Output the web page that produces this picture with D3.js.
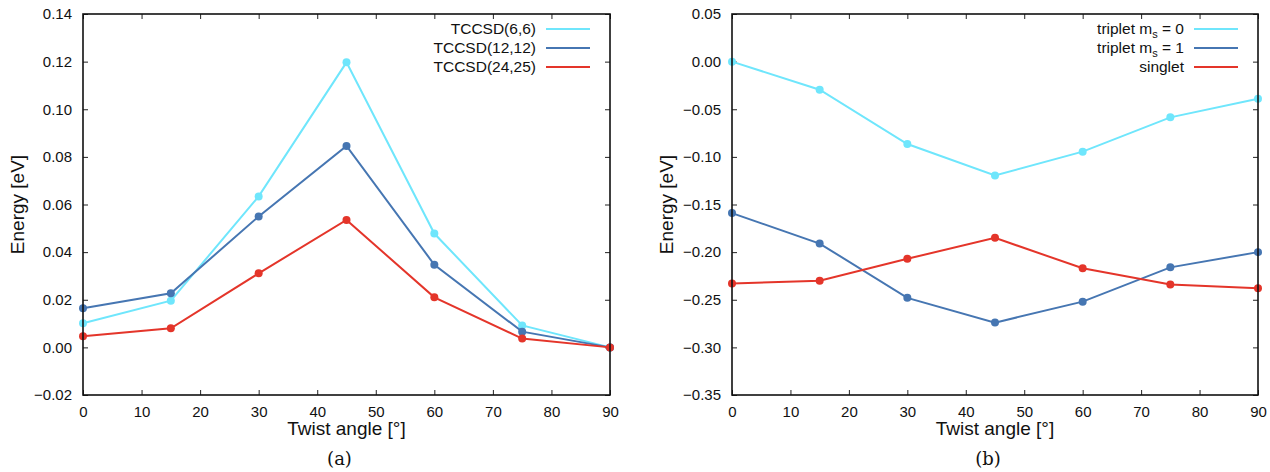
<!DOCTYPE html>
<html>
<head>
<meta charset="utf-8">
<script src="https://cdn.jsdelivr.net/npm/d3@7"></script>
<style>
  body { margin: 0; background: #fff; }
  text { font-family: "Liberation Sans", Arial, sans-serif; fill: #111; }
  .caption { font-family: "DejaVu Serif", "Liberation Serif", serif; }
</style>
</head>
<body>
<svg id="chart" width="1270" height="472"></svg>
<script>
// twist angles shared by both panels
const angles = [0, 15, 30, 45, 60, 75, 90];
const xTicks = [0, 10, 20, 30, 40, 50, 60, 70, 80, 90];

// panel (a)
const tccsd66 = [0.0101, 0.0196, 0.0634, 0.1197, 0.0478, 0.0092, 0.0];
const tccsd1212 = [0.0164, 0.0227, 0.0550, 0.0846, 0.0347, 0.0066, 0.0];
const tccsd2425 = [0.0047, 0.0080, 0.0311, 0.0535, 0.0210, 0.0037, 0.0];
const yTicksA = [-0.02, 0.0, 0.02, 0.04, 0.06, 0.08, 0.10, 0.12, 0.14];

// panel (b)
const tripletMs0 = [0.0, -0.0295, -0.0865, -0.1195, -0.0945, -0.0585, -0.039];
const tripletMs1 = [-0.159, -0.191, -0.248, -0.274, -0.252, -0.216, -0.200];
const singlet = [-0.233, -0.230, -0.207, -0.185, -0.217, -0.234, -0.238];
const yTicksB = [-0.35, -0.30, -0.25, -0.20, -0.15, -0.10, -0.05, 0.0, 0.05];

const colors = { cyan: "#6fe6fc", blue: "#4676b2", red: "#e4352a" };

const svg = d3.select("#chart");

function drawPanel(opts) {
    let { left, right, top, bottom, yDomain, yTicks, series, caption } = opts;

    let x = d3.scaleLinear().domain([0, 90]).range([left, right]);
    let y = d3.scaleLinear().domain(yDomain).range([bottom, top]);
    let g = svg.append("g");

    // inward ticks on all four sides, like gnuplot
    g.append("g")
        .attr("transform", `translate(0, ${bottom})`)
        .call(d3.axisBottom(x).tickValues(xTicks).tickSizeInner(-5).tickSizeOuter(0).tickPadding(11).tickFormat(d3.format("d")))
        .call(a => a.select(".domain").remove());
    g.append("g")
        .attr("transform", `translate(0, ${top})`)
        .call(d3.axisTop(x).tickValues(xTicks).tickSizeInner(-5).tickSizeOuter(0).tickFormat(""))
        .call(a => a.select(".domain").remove());
    g.append("g")
        .attr("transform", `translate(${left}, 0)`)
        .call(d3.axisLeft(y).tickValues(yTicks).tickSizeInner(-5).tickSizeOuter(0).tickPadding(11).tickFormat(d3.format(".2f")))
        .call(a => a.select(".domain").remove());
    g.append("g")
        .attr("transform", `translate(${right}, 0)`)
        .call(d3.axisRight(y).tickValues(yTicks).tickSizeInner(-5).tickSizeOuter(0).tickFormat(""))
        .call(a => a.select(".domain").remove());

    g.selectAll(".tick line").attr("stroke", "#222").attr("stroke-width", 1);
    g.selectAll(".tick text").attr("font-size", 15).attr("fill", "#111")
        .attr("font-family", "Liberation Sans, Arial, sans-serif");

    // series
    let line = d3.line().x((d, i) => x(angles[i])).y(d => y(d));
    series.forEach(s => {
        g.append("path")
            .datum(s.values)
            .attr("fill", "none")
            .attr("stroke", s.color)
            .attr("stroke-width", 2)
            .attr("d", line);
        g.append("g")
            .selectAll("circle")
            .data(s.values)
            .enter()
            .append("circle")
                .attr("cx", (d, i) => x(angles[i]))
                .attr("cy", d => y(d))
                .attr("r", 4)
                .attr("fill", s.color);
    });

    // frame
    g.append("rect")
        .attr("x", left).attr("y", top)
        .attr("width", right - left).attr("height", bottom - top)
        .attr("fill", "none").attr("stroke", "#111").attr("stroke-width", 1.6);

    // legend
    series.forEach((s, i) => {
        let ly = 29 + i * 19;
        let t = g.append("text")
            .attr("x", right - 74).attr("y", ly + 5)
            .attr("text-anchor", "end")
            .attr("font-size", 15.5);
        if (s.sub) {
            t.append("tspan").text(s.label);
            t.append("tspan").attr("font-size", 11).attr("dy", 4).text(s.sub);
            t.append("tspan").attr("dy", -4).text(s.tail);
        } else {
            t.text(s.label);
        }
        g.append("line")
            .attr("x1", right - 64).attr("x2", right - 20)
            .attr("y1", ly).attr("y2", ly)
            .attr("stroke", s.color).attr("stroke-width", 2);
    });

    // axis titles
    g.append("text")
        .attr("transform", `translate(${left - 59}, ${(top + bottom) / 2}) rotate(-90)`)
        .attr("text-anchor", "middle")
        .attr("font-size", 19)
        .text("Energy [eV]");
    g.append("text")
        .attr("x", (left + right) / 2).attr("y", bottom + 40)
        .attr("text-anchor", "middle")
        .attr("font-size", 19)
        .text("Twist angle [°]");
    g.append("text")
        .attr("class", "caption")
        .attr("x", (left + right) / 2 - 7).attr("y", bottom + 70)
        .attr("text-anchor", "middle")
        .attr("font-size", 18)
        .text(caption);
}

drawPanel({
    left: 83, right: 610, top: 14, bottom: 395,
    yDomain: [-0.02, 0.14], yTicks: yTicksA, caption: "(a)",
    series: [
        { label: "TCCSD(6,6)", values: tccsd66, color: colors.cyan },
        { label: "TCCSD(12,12)", values: tccsd1212, color: colors.blue },
        { label: "TCCSD(24,25)", values: tccsd2425, color: colors.red }
    ]
});

drawPanel({
    left: 732, right: 1258, top: 14, bottom: 395,
    yDomain: [-0.35, 0.05], yTicks: yTicksB, caption: "(b)",
    series: [
        { label: "triplet m", sub: "s", tail: " = 0", values: tripletMs0, color: colors.cyan },
        { label: "triplet m", sub: "s", tail: " = 1", values: tripletMs1, color: colors.blue },
        { label: "singlet", values: singlet, color: colors.red }
    ]
});
</script>
</body>
</html>
